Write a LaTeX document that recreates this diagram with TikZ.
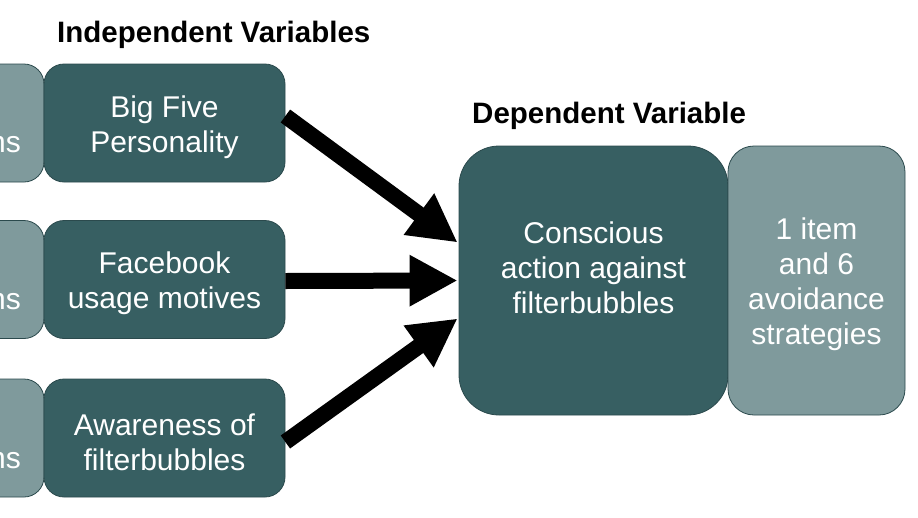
\documentclass[tikz,border=0pt]{standalone}
\usepackage{fontspec}
\setmainfont{Liberation Sans}
\usetikzlibrary{arrows.meta}
\definecolor{darkteal}{HTML}{375F62}
\definecolor{lightteal}{HTML}{7F9A9C}
\definecolor{edgeteal}{HTML}{2B4A4D}
\newcommand{\pushdown}{\mbox{}\\[-5pt]}
\begin{document}
\begin{tikzpicture}[x=1pt,y=-1pt,
  box/.style={draw=edgeteal, line width=0.8pt, text=white, inner sep=0pt,
    font=\fontsize{30}{35}\selectfont, align=center},
  ivbox/.style={box, fill=darkteal, rounded corners=20pt, minimum width=241pt, minimum height=118pt},
  sidebox/.style={box, fill=lightteal, rounded corners=20pt, minimum width=150pt, minimum height=118pt},
  sidetext/.style={anchor=base east, text=white, inner sep=0pt, font=\fontsize{30}{35}\selectfont},
  title/.style={font=\fontsize{29.5}{35}\selectfont\bfseries, anchor=base west, inner sep=0pt},
  arr/.style={line width=16pt, -{Triangle[length=48pt,width=48pt]}}]
\useasboundingbox (0,0) rectangle (918,517);
\clip (0,0) rectangle (918,517);
\fill[white] (0,0) rectangle (918,517);

\node[title] (t1) at (57,42) {Independent Variables};
\node[title] (t2) at (472,123) {Dependent Variable};

% partially visible side boxes
\node[sidebox] (s1) at (-31,123) {};
\node[sidebox] (s2) at (-31,279.5) {};
\node[sidebox] (s3) at (-31,438) {};
\node[sidetext] (s1t) at (21,152) {ns};
\node[sidetext] (s2t) at (21,309) {ns};
\node[sidetext] (s3t) at (21,468) {ns};

\node[ivbox] (b1) at (164.5,123) {\pushdown Big Five\\Personality};
\node[ivbox] (b2) at (164.5,279.5) {\pushdown Facebook\\usage motives};
\node[ivbox] (b3) at (164.5,438) {\pushdown Awareness of\\filterbubbles};

\node[box, fill=darkteal, rounded corners=40pt, minimum width=269pt, minimum height=269pt] (dv) at (593.5,280.5)
  {\pushdown Conscious\\action against\\filterbubbles\\\mbox{}};
\node[box, fill=lightteal, rounded corners=26pt, minimum width=177pt, minimum height=269pt] (it) at (816.5,280.5)
  {\pushdown 1 item\\and 6\\avoidance\\strategies};

\draw[arr] ([yshift=7pt]b1.east) -- ([yshift=38pt,xshift=-1pt]dv.west);
\draw[arr] ([yshift=-1.5pt]b2.east) -- ([xshift=-1pt]dv.west);
\draw[arr] ([yshift=-4pt]b3.east) -- ([yshift=-38pt,xshift=-1pt]dv.west);
\end{tikzpicture}
\end{document}
